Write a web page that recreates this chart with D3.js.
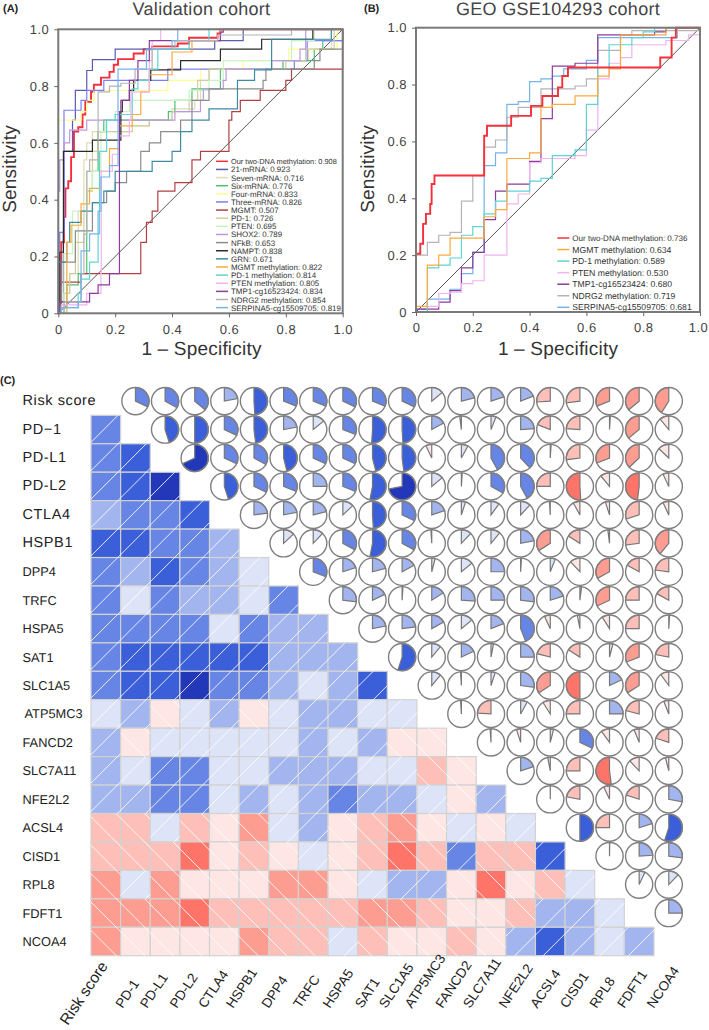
<!DOCTYPE html>
<html><head><meta charset="utf-8">
<script src="https://cdn.jsdelivr.net/npm/d3@7/dist/d3.min.js"></script>
<style>html,body{margin:0;padding:0;background:#fff}svg{display:block;font-family:"Liberation Sans",Arial,sans-serif;text-rendering:geometricPrecision}</style>
</head><body><svg id="c" width="709" height="1030"></svg>
<script>
// ---------- Panel A ROC series: [fpr, tpr] after each rise
const aTwoDna=[[.005,.1],[.01,.25],[.02,.34],[.025,.44],[.035,.465],[.045,.55],[.055,.64],[.07,.655],[.085,.7],[.095,.745],[.115,.78],[.125,.805],[.15,.83],[.18,.85],[.195,.875],[.21,.895],[.265,.915],[.3,.93],[.33,.94],[.42,.95],[.46,.97],[.56,.985],[.57,1],[1,1]];
const a21=[[.005,.04],[.018,.29],[.02,.57],[.05,.68],[.06,.785],[.1,.855],[.12,.893],[.2,.93],[.55,.96],[.65,1],[1,1]];
const a7=[[.02,.07],[.04,.14],[.07,.36],[.09,.54],[.1,.6],[.12,.64],[.25,.66],[.32,.68],[.4,.72],[.48,.75],[.5,.82],[.53,.86],[.75,.89],[.88,.93],[.96,1],[1,1]];
const a6=[[.01,.02],[.03,.1],[.07,.14],[.1,.43],[.12,.5],[.14,.64],[.16,.68],[.387,.71],[.41,.75],[.47,.79],[.57,.86],[.79,.89],[.9,.93],[.93,.96],[1,1]];
const a4=[[0,.68],[.08,.71],[.1,.75],[.125,.785],[.385,.82],[.5,.86],[.65,.89],[.81,.93],[.98,1],[1,1]];
const a3=[[.005,.285],[.02,.715],[.08,.75],[.1,.785],[.16,.82],[.385,.86],[.83,.89],[.875,.96],[1,1]];
const aMgmt=[[.01,.11],[.08,.14],[.29,.25],[.31,.32],[.33,.36],[.35,.43],[.41,.46],[.47,.54],[.5,.57],[.6,.68],[.61,.71],[.64,.75],[.71,.785],[.8,.82],[.82,.86],[1,1]];
const aPd1=[[.02,.07],[.04,.14],[.06,.25],[.09,.36],[.1,.5],[.12,.57],[.14,.64],[.26,.66],[.32,.68],[.4,.71],[.46,.75],[.49,.82],[.53,.86],[.8,.89],[.87,.93],[.97,1],[1,1]];
const aPten=[[.02,.21],[.05,.36],[.1,.43],[.12,.5],[.15,.64],[.165,.68],[.2,.71],[.25,.75],[.46,.785],[.53,.82],[.58,.89],[.82,.96],[.9,1],[1,1]];
const aShox=[[0,.43],[.005,.54],[.02,.6],[.04,.645],[.1,.68],[.41,.71],[.5,.75],[.51,.79],[.58,.82],[.59,.86],[.75,.89],[.85,.93],[.87,1],[1,1]];
const aNfkb=[[.01,.18],[.06,.29],[.12,.39],[.17,.43],[.2,.46],[.24,.5],[.29,.57],[.32,.6],[.36,.64],[.43,.68],[.47,.75],[.53,.79],[.72,.82],[.73,.86],[.9,.89],[.92,.93],[1,1]];
const aNampt=[[.005,.215],[.018,.57],[.12,.61],[.22,.71],[.225,.75],[.25,.785],[.265,.82],[.325,.857],[.43,.89],[.57,.93],[.715,.965],[.895,1],[1,1]];
const aGrn=[[0,.18],[.03,.25],[.04,.32],[.08,.36],[.12,.39],[.16,.43],[.2,.5],[.33,.535],[.4,.57],[.43,.64],[.47,.68],[.53,.72],[.63,.82],[.69,.857],[.75,.965],[.96,1],[1,1]];
const aMgmtM=[[.03,.25],[.045,.31],[.08,.385],[.11,.44],[.145,.5],[.18,.58],[.215,.66],[.26,.7],[.29,.78],[.32,.84],[.4,.92],[.47,.96],[.57,1],[1,1]];
const aPd1M=[[.02,.02],[.07,.07],[.08,.12],[.11,.18],[.14,.28],[.145,.57],[.17,.68],[.2,.7],[.26,.79],[.28,.82],[.32,.86],[.35,.93],[.46,.96],[.53,1],[1,1]];
const aPtenM=[[.01,.03],[.1,.07],[.15,.14],[.151,.5],[.19,.56],[.215,.625],[.25,.68],[.255,.78],[.32,.89],[.33,.96],[.36,1],[1,1]];
const aTmp=[[.005,.04],[.075,.04],[.11,.07],[.14,.1],[.18,.14],[.215,.71],[.22,.75],[.25,.82],[.28,.89],[.32,.96],[.57,.99],[.58,1],[1,1]];
const aNdrg=[[.02,.04],[.08,.14],[.09,.28],[.1,.5],[.11,.54],[.14,.78],[.18,.8],[.22,.81],[.27,.86],[.33,.93],[.41,.96],[.56,.98],[.82,1],[1,1]];
const aSerp=[[.01,.02],[.07,.04],[.08,.22],[.11,.28],[.14,.36],[.15,.48],[.18,.52],[.21,.86],[.31,.93],[.4,.96],[.42,1],[1,1]];
const seriesA=[aTwoDna,a21,a7,a6,a4,a3,aMgmt,aPd1,aPten,aShox,aNfkb,aNampt,aGrn,aMgmtM,aPd1M,aPtenM,aTmp,aNdrg,aSerp];
const namesA=["Our two-DNA methylation: 0.908","21-mRNA: 0.923","Seven-mRNA: 0.716","Six-mRNA: 0.776","Four-mRNA: 0.833","Three-mRNA: 0.826","MGMT: 0.507","PD-1: 0.726","PTEN: 0.695","SHOX2: 0.789","NFkB: 0.653","NAMPT: 0.838","GRN: 0.671","MGMT methylation: 0.822","PD-1 methylation: 0.814","PTEN methylation: 0.805","TMP1-cg16523424: 0.834","NDRG2 methylation: 0.854","SERPINA5-cg15509705: 0.819"];
const colorsA=["#f4303a","#5a5cb0","#dcdcb4","#4cc070","#ffff90","#7a80f8","#b24044","#cfcf9c","#c8f4c4","#bc98de","#8c8c8c","#2a2a2a","#3f8ba4","#ffa83c","#5ed4d4","#f0b4f0","#8c3c9c","#b4b4b4","#74b4e8"];
// ---------- Panel B ROC series
const bTwoDna=[[0,.205],[.015,.24],[.025,.31],[.035,.345],[.05,.38],[.055,.45],[.065,.48],[.24,.62],[.25,.655],[.335,.69],[.405,.725],[.445,.76],[.5,.79],[.515,.83],[.535,.86],[.86,.895],[.9,.965],[.915,1],[1,1]];
const bMgmt=[[0,.02],[.04,.165],[.08,.2],[.12,.26],[.24,.335],[.28,.36],[.32,.54],[.4,.56],[.44,.72],[.48,.73],[.56,.76],[.64,.83],[.68,.855],[.72,.975],[.88,1],[1,1]];
const bPd1=[[.04,.155],[.08,.165],[.12,.19],[.16,.27],[.2,.3],[.24,.345],[.28,.39],[.32,.425],[.4,.46],[.44,.47],[.48,.55],[.56,.57],[.6,.73],[.64,.86],[.68,.94],[.76,.965],[.8,.985],[.84,1],[1,1]];
const bPten=[[.04,.02],[.08,.065],[.12,.07],[.16,.1],[.2,.11],[.24,.2],[.32,.38],[.36,.415],[.4,.525],[.44,.54],[.56,.55],[.6,.64],[.64,.82],[.68,.875],[.72,.895],[.76,.94],[.88,.955],[.96,.975],[1,1]];
const bTmp=[[0,.01],[.08,.035],[.12,.075],[.16,.155],[.2,.21],[.24,.325],[.28,.425],[.32,.45],[.4,.53],[.44,.68],[.48,.865],[.56,.875],[.64,.975],[.84,.985],[.88,1],[1,1]];
const bNdrg=[[0,.2],[.04,.245],[.08,.27],[.12,.28],[.16,.39],[.2,.48],[.24,.58],[.28,.605],[.32,.685],[.36,.72],[.44,.785],[.56,.795],[.6,.82],[.64,.92],[.72,.975],[.76,.99],[1,1]];
const bSerp=[[0,.01],[.04,.045],[.12,.08],[.16,.135],[.2,.21],[.24,.515],[.28,.56],[.32,.73],[.36,.74],[.4,.81],[.44,.82],[.48,.83],[.52,.855],[.6,.885],[.64,.965],[.92,1],[1,1]];
const seriesB=[bSerp,bNdrg,bTmp,bPten,bPd1,bMgmt,bTwoDna];
const namesB=["Our two-DNA methylation: 0.736","MGMT methylation: 0.634","PD-1 methylation: 0.589","PTEN methylation: 0.530","TMP1-cg16523424: 0.680","NDRG2 methylation: 0.719","SERPINA5-cg15509705: 0.681"];
const colorsB=["#f4303a","#ffa83c","#5ed4d4","#f0b4f0","#8c3c9c","#b4b4b4","#74b4e8"];
const axisTicks=[0,.2,.4,.6,.8,1];
// ---------- Panel C
const genes=["Risk score","PD-1","PD-L1","PD-L2","CTLA4","HSPB1","DPP4","TRFC","HSPA5","SAT1","SLC1A5","ATP5MC3","FANCD2","SLC7A11","NFE2L2","ACSL4","CISD1","RPL8","FDFT1","NCOA4"];
const rowLabels=["Risk score","PD\u22121","PD-L1","PD-L2","CTLA4","HSPB1","DPP4","TRFC","HSPA5","SAT1","SLC1A5","ATP5MC3","FANCD2","SLC7A11","NFE2L2","ACSL4","CISD1","RPL8","FDFT1","NCOA4"];
// Upper triangle of the correlation matrix, each row starts right after the diagonal
const rRisk=[.32,.33,.36,.22,.49,.31,.31,.32,.31,.32,.14,.21,.2,.19,-.26,-.27,-.31,-.36,-.41];
const rPd1=[.45,.5,.32,.48,.22,.14,.31,.51,.49,.17,-.02,.06,.24,-.19,-.24,.01,-.36,-.11];
const rPdl1=[.68,.32,.33,.46,.32,.32,.46,.48,-.07,.08,.42,.38,.01,-.27,-.31,-.37,-.13];
const rPdl2=[.45,.32,.31,.25,.31,.53,.72,.14,.01,.33,.42,-.25,-.51,-.11,-.48,-.07];
const rCtla4=[.23,.22,.21,.13,.49,.32,.2,.05,.1,.12,-.01,-.08,-.05,-.3,-.07];
const rHspb1=[.13,.12,.33,.53,.33,-.01,.12,.11,.22,-.34,-.16,-.02,-.27,-.39];
const rDpp4=[.31,.2,.21,.17,.04,.14,.25,.01,.06,-.12,-.33,-.17,-.23];
const rTrfc=[.27,.18,.01,.16,.26,.25,.27,.2,.02,-.32,-.25,-.17];
const rHspa5=[.22,.23,.17,.14,.19,.44,-.07,-.03,-.09,-.25,.01];
const rSat1=[.55,.11,.18,.03,.25,-.21,-.16,.04,-.31,-.22];
const rSlc1a5=[.11,-.01,.05,.27,-.34,-.5,.18,-.34,-.1];
const rAtp5=[-.01,-.24,.08,-.09,-.25,.25,-.21,-.06];
const rFancd2=[-.01,-.05,.04,.32,-.1,-.06,-.2];
const rSlc7a11=[.2,-.03,-.25,-.52,-.12,-.04];
const rNfe2l2=[.001,-.22,-.07,-.2,.28];
const rAcsl4=[.5,-.25,.2,.55];
const rCisd1=[.002,.24,.27];
const rRpl8=[.07,.12];
const rFdft1=[.25];
const upper=[rRisk,rPd1,rPdl1,rPdl2,rCtla4,rHspb1,rDpp4,rTrfc,rHspa5,rSat1,rSlc1a5,rAtp5,rFancd2,rSlc7a11,rNfe2l2,rAcsl4,rCisd1,rRpl8,rFdft1];
const shadeBreaks=[-.45,-.3,-.15,0,.15,.3,.45,.6];
const shadeColors=["#fe7468","#fd9c90","#fdbfb8","#fde6e3","#dde4f7","#a3b5ee","#6685e4","#3a5fd8","#2238b8"];

const svg=d3.select("#c");
const txt="#444";

function rocPanel(cfg){
  const x=d3.scaleLinear([0,1],[cfg.x0,cfg.x1]), y=d3.scaleLinear([0,1],[cfg.y0,cfg.y1]);
  const g=svg.append("g");
  const line=d3.line().x(d=>x(d[0])).y(d=>y(d[1])).curve(d3.curveStepAfter);
  g.append("line").attr("x1",x(0)).attr("y1",y(0)).attr("x2",x(1)).attr("y2",y(1)).attr("stroke","#555").attr("stroke-width",1);
  cfg.series.forEach((s,i)=>{
    g.append("path").datum([[0,0],...s]).attr("d",line).attr("fill","none")
     .attr("stroke",cfg.colors[i]).attr("stroke-width",cfg.widths[i]);
  });
  g.append("rect").attr("x",cfg.x0).attr("y",cfg.y1).attr("width",cfg.x1-cfg.x0).attr("height",cfg.y0-cfg.y1)
   .attr("fill","none").attr("stroke","#7a7a7a").attr("stroke-width",2);
  const fmt=d=>d===0?"0":d3.format(".1f")(d);
  const ax=g.append("g").attr("transform",`translate(0,${cfg.y0})`).call(d3.axisBottom(x).tickValues(axisTicks).tickFormat(fmt).tickSize(4).tickPadding(7));
  const ay=g.append("g").attr("transform",`translate(${cfg.x0},0)`).call(d3.axisLeft(y).tickValues(axisTicks).tickFormat(fmt).tickSize(4).tickPadding(5));
  [ax,ay].forEach(a=>{a.select(".domain").remove();a.selectAll("line").attr("stroke","#666");
    a.selectAll("text").attr("fill",txt).style("font-size","13px").style("letter-spacing","0.5px").style("font-family",'"Liberation Sans",Arial,sans-serif');});
  ax.selectAll("text").filter(d=>d===1).attr("dx",cfg.lastTickDx);
  g.append("text").attr("x",cfg.titleX).attr("y",15).attr("text-anchor","middle").attr("fill",txt).style("font-size","18px").style("letter-spacing","0.3px").text(cfg.title);
  g.append("text").attr("transform",`translate(${cfg.senX},169) rotate(-90)`).attr("text-anchor","middle").attr("fill","#333").style("font-size","19px").style("letter-spacing","0.2px").text("Sensitivity");
  g.append("text").attr("x",cfg.titleX).attr("y",355).attr("text-anchor","middle").attr("fill","#333").style("font-size","19px").style("letter-spacing","0.2px").text("1 \u2013 Specificity");
  cfg.legendNames.forEach((n,i)=>{
    const ly=cfg.lgY+i*cfg.lgDy;
    g.append("line").attr("x1",cfg.lgX).attr("x2",cfg.lgX+12).attr("y1",ly).attr("y2",ly).attr("stroke",cfg.legendColors[i]).attr("stroke-width",1.5);
    g.append("text").attr("x",cfg.lgX+15).attr("y",ly+3).attr("fill","#333").style("font-size",(i===0?cfg.lgFs*.93:cfg.lgFs)+"px").text(n);
  });
}
rocPanel({x0:58.3,x1:342.7,y0:313.3,y1:29.3,series:seriesA,colors:colorsA,widths:colorsA.map((c,i)=>i===0?1.9:1.2),title:"Validation cohort",titleX:201.5,senX:16,lastTickDx:0,
  legendNames:namesA,legendColors:colorsA,lgX:216,lgY:161.3,lgDy:8.13,lgFs:7.95});
rocPanel({x0:416,x1:700,y0:312,y1:27.7,series:seriesB,colors:[colorsB[6],colorsB[5],colorsB[4],colorsB[3],colorsB[2],colorsB[1],colorsB[0]],widths:[1.2,1.2,1.2,1.2,1.2,1.2,1.9],title:"GEO GSE104293 cohort",titleX:558,senX:374,lastTickDx:-2,
  legendNames:namesB,legendColors:colorsB,lgX:557.3,lgY:238,lgDy:11.55,lgFs:8.65});

[["(A)",3,12],["(B)",364,12],["(C)",0,384]].forEach(p=>svg.append("text").attr("x",p[1]).attr("y",p[2]).attr("fill","#222").style("font-size","11px").style("font-weight","bold").text(p[0]));

// ---------- correlogram
const xb=d3.scaleBand().domain(genes).range([91,91+29.63*20]);
const yb=d3.scaleBand().domain(genes).range([955.7-28.44*20,955.7]);
const shade=d3.scaleThreshold().domain(shadeBreaks).range(shadeColors);
const pairs=[];
upper.forEach((row,i)=>row.forEach((r,k)=>pairs.push({i,j:i+1+k,r})));
const HATCH=28.4, C_POS=533.3, C_NEG=-811;
const low=svg.append("g");
pairs.forEach(p=>{
  const x0=xb(genes[p.i]),x1=x0+xb.bandwidth(),y0=yb(genes[p.j]),y1=y0+yb.bandwidth();
  low.append("rect").attr("x",x0).attr("y",y0).attr("width",x1-x0).attr("height",y1-y0).attr("fill",shade(p.r)).attr("stroke","#d2d2d2").attr("stroke-width",1.2);
});
pairs.forEach(p=>{
  const x0=xb(genes[p.i]),x1=x0+xb.bandwidth(),y0=yb(genes[p.j]),y1=y0+yb.bandwidth();
  const pos=p.r>=0, c0=pos?C_POS:C_NEG;
  for(let k=-60;k<60;k++){
    const c=c0+k*HATCH;
    const a=pos?Math.max(x0,c-y1):Math.max(x0,y0+c), b=pos?Math.min(x1,c-y0):Math.min(x1,y1+c);
    if(b-a<1) continue;
    const fy=v=>pos?c-v:v-c;
    low.append("line").attr("x1",a).attr("x2",b).attr("y1",fy(a)).attr("y2",fy(b)).attr("stroke","#fff").attr("stroke-width",1).attr("stroke-opacity",.85);
  }
});
const R=13.6, arc=d3.arc().innerRadius(0).outerRadius(R);
const up=svg.append("g");
pairs.forEach(p=>{
  const g=up.append("g").attr("transform",`translate(${xb(genes[p.j])+xb.bandwidth()/2},${yb(genes[p.i])+yb.bandwidth()/2})`);
  g.append("circle").attr("r",R).attr("fill","#fff");
  g.append("path").attr("d",arc({startAngle:0,endAngle:p.r*2*Math.PI})).attr("fill",shade(p.r)).attr("stroke","#777").attr("stroke-width",1.2);
  g.append("circle").attr("r",R).attr("fill","none").attr("stroke","#808080").attr("stroke-width",1.4);
});
const bigRows=new Set(["Risk score","PD\u22121","PD-L1","PD-L2","CTLA4","HSPB1"]);
rowLabels.forEach((t,i)=>{
  svg.append("text").attr("x",t==="ATP5MC3"?24.5:22.5).attr("y",yb(genes[i])+yb.bandwidth()/2+(bigRows.has(t)?4:4.5))
   .attr("fill","#222").style("font-size",bigRows.has(t)?"14.5px":"12.8px").style("letter-spacing",bigRows.has(t)?"0.6px":"0").text(t);
});
const colNudge=[-43,-18,-23,-23,-24,-26,-20,-18,-18,-15.5,-21,-25,-24,-26,-20,-18,-18,-18,-20,-20];
genes.forEach((t,i)=>{
  const x=xb(t)+xb.bandwidth()/2+colNudge[i]+5, y=i===0?1026:1009;
  svg.append("text").attr("transform",`translate(${x},${y}) rotate(-56)`).attr("fill","#222")
   .style("font-size",i===0?"15.5px":"13.5px").text(t);
});
</script></body></html>
